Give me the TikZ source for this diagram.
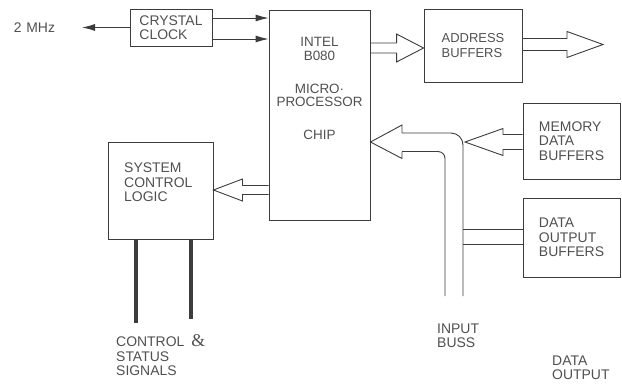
\documentclass[tikz,border=0pt]{standalone}
\usepackage{fontspec}
\setmainfont{Liberation Sans}
\newfontfamily\ampfont{Liberation Serif}
\usepackage{tikz}
\usetikzlibrary{calc,arrows.meta,positioning}
\definecolor{inkc}{HTML}{3C3C3C}
\definecolor{txtc}{HTML}{505050}
\tikzset{
  ln/.style={inkc,line width=0.9bp},
  ar/.style={-{Latex[length=13bp,width=7bp]},ln},
  fat/.style={ln,line join=miter},
  sig/.style={inkc,line width=3.5bp},
  box/.style={draw=inkc,line width=0.9bp,align=left,text=txtc,inner sep=0pt,font=\fontsize{14}{14.5}\selectfont},
  lbl/.style={align=left,text=txtc,inner sep=0pt,font=\fontsize{14}{14.5}\selectfont}
}
% hollow bus arrow: start, tip, shaft half width, head half width, head length
\newcommand{\fatar}[5]{%
  \draw[fat] let \p1=(#1), \p2=(#2), \n1={sign(\x2-\x1)} in
    (\x1,{\y2+#3bp}) -- ({\x2-(\n1)*#5bp},{\y2+#3bp}) -- ({\x2-(\n1)*#5bp},{\y2+#4bp}) -- (\x2,\y2)
    -- ({\x2-(\n1)*#5bp},{\y2-#4bp}) -- ({\x2-(\n1)*#5bp},{\y2-#3bp}) -- (\x1,{\y2-#3bp});}

\begin{document}
\begin{tikzpicture}[x=1bp,y=-1bp]
\useasboundingbox (0,0) rectangle (622,383);
% boxes
\node[box,minimum width=82bp,minimum height=37bp] (clk) at (171,27.5) {CRYSTAL\\CLOCK};
\node[box,minimum width=101bp,minimum height=210bp] (chip) at (319.5,115) {};
\node[lbl,align=center,font=\fontsize{13.5}{13.5}\selectfont] (chiplbl) at (319.5,88.5) {INTEL\\B080\\[19.5bp]MICRO·\\PROCESSOR\\[19.5bp]CHIP};
\node[box,minimum width=98bp,minimum height=73bp,font=\fontsize{13}{14.5}\selectfont] (addr) at (473,45.5) {ADDRESS\\BUFFERS};
\node[box,minimum width=97bp,minimum height=76bp] (mem) at (571.5,141) {MEMORY\\DATA\\BUFFERS};
\node[box,minimum width=97bp,minimum height=79bp] (dout) at (571.5,237.5) {DATA\\OUTPUT\\BUFFERS};
\node[box,minimum width=105bp,minimum height=97bp] (sys) at (160.5,190.5) {};
\node[lbl,anchor=west] (syslbl) at (124,182.5) {SYSTEM\\CONTROL\\LOGIC};

% clock lines
\node[lbl] (mhz) at (34.5,27.5) {2\,\,MHz};
\coordinate (mhzend) at (82,27.5);
\draw[ar] (clk.west) -- (mhzend);
\foreach \yy in {18,39} \draw[ar] (clk.east |- 0,\yy) -- (chip.west |- 0,\yy);

% busses
\coordinate (outtip) at (603,44.5);
\coordinate (memtip) at (465,142);
\fatar{chip.east |- 0,48}{addr.west |- 0,48}{5}{14}{27}
\fatar{addr.east |- 0,44.5}{outtip}{6}{13}{36}
\fatar{mem.west |- 0,142}{memtip}{7.5}{13.5}{38}
\fatar{chip.west |- 0,190}{sys.east |- 0,190}{4.5}{11}{29}

% input buss
\coordinate (busL) at (445,296);
\coordinate (busR) at (463,296);
\coordinate (bustip) at (chip.east |- 0,142);
\draw[fat,rounded corners=7bp] (busL) -- (busL |- 0,151.5) -- (402,151.5);
\draw[fat] (402,151.5) -- (402,158.5) -- (bustip) -- (402,125) -- (402,133);
\draw[fat,rounded corners=12bp] (402,133) -- (busR |- 0,133) -- (busR);
\foreach \yy in {229,244} \draw[ln] (busR |- 0,\yy) -- (dout.west |- 0,\yy);

% control signals
\coordinate (s1) at (136,323);
\coordinate (s2) at (191,319);
\foreach \s in {s1,s2} \draw[sig] (sys.south -| \s) -- (\s);

% labels
\node[lbl,anchor=west] (ctl) at (116,356.5) {CONTROL\hspace{7bp}\smash{\ampfont\fontsize{18}{14.5}\selectfont\&}\\STATUS\\SIGNALS};
\node[lbl,anchor=west] (buss) at (437,335.5) {INPUT\\BUSS};
\node[lbl,anchor=west] (dolbl) at (552,367.5) {DATA\\OUTPUT};
\end{tikzpicture}
\end{document}
